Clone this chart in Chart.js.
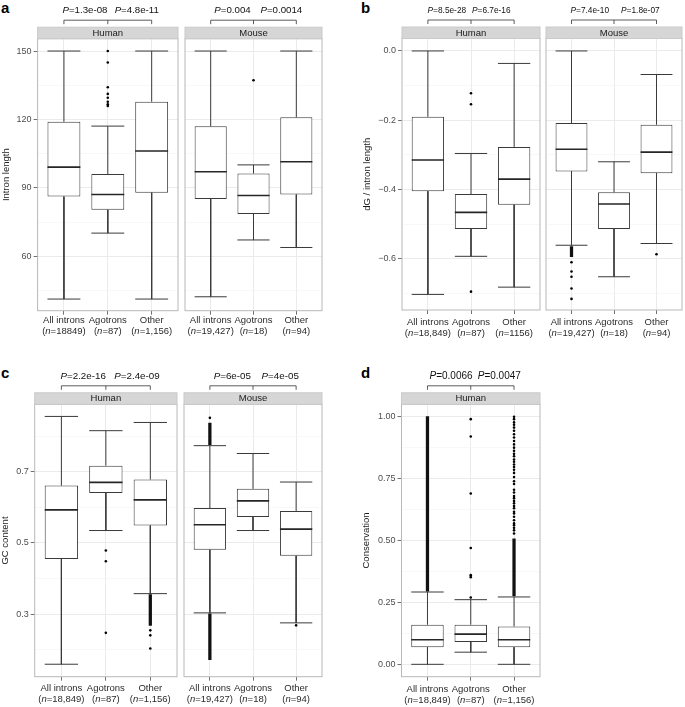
<!DOCTYPE html>
<html>
<head>
<meta charset="utf-8">
<script src="https://cdn.jsdelivr.net/npm/chart.js@4.4.1/dist/chart.umd.min.js"></script>
<style>
  body { margin: 0; background: #fff; width: 685px; height: 707px; position: relative; overflow: hidden; }
  canvas { position: absolute; }
  .tag { position: absolute; font: bold 15px "Liberation Sans", Arial, sans-serif; line-height: 15px; color: #000; }
</style>
</head>
<body>
<div class="tag" style="left:1px;top:0px">a</div>
<div class="tag" style="left:361px;top:0px">b</div>
<div class="tag" style="left:1px;top:365px">c</div>
<div class="tag" style="left:361px;top:365px">d</div>
<script>
// categories
const groups = ['All introns', 'Agotrons', 'Other'];

// box stats per group: [lower whisker, q1, median, q3, upper whisker]
// a: intron length
const aHumanBox = [[41.3, 86.2, 99.1, 119.0, 150], [70.2, 80.4, 87.1, 96.1, 117.1], [41.3, 87.9, 106.2, 127.8, 150]];
const aHumanOut = [[], [150, 145, 134.1, 131.2, 129.5, 127.8, 126.7, 125.9], []];
const aHumanDense = [[], [], []];
const aMouseBox = [[42.3, 85.2, 97.1, 117.0, 150], [67.2, 78.6, 86.7, 96.3, 100.1], [63.9, 87.1, 101.5, 121.0, 150]];
const aMouseOut = [[], [137.2], []];
const aMouseDense = [[], [], []];
const aHumanN = ['18849', '87', '1,156'];
const aMouseN = ['19,427', '18', '94'];
const aHumanP = ['1.3e-08', '4.8e-11'];
const aMouseP = ['0.004', '0.0014'];
const aTicks = [60, 90, 120, 150];
const aMinor = [45, 75, 105, 135];

// b: dG / intron length
const bHumanBox = [[-0.703, -0.405, -0.315, -0.190, 0.0], [-0.593, -0.514, -0.466, -0.413, -0.296], [-0.682, -0.444, -0.370, -0.277, -0.036]];
const bHumanOut = [[], [-0.122, -0.154, -0.695], []];
const bHumanDense = [[], [], []];
const bMouseBox = [[-0.561, -0.348, -0.284, -0.208, 0.0], [-0.652, -0.514, -0.442, -0.408, -0.320], [-0.556, -0.353, -0.292, -0.213, -0.068]];
const bMouseOut = [[-0.61, -0.637, -0.652, -0.686, -0.716], [], [-0.587]];
const bMouseDense = [[[-0.594, -0.565]], [], []];
const bHumanN = ['18,849', '87', '1156'];
const bMouseN = ['19,427', '18', '94'];
const bHumanP = ['8.5e-28', '6.7e-16'];
const bMouseP = ['7.4e-10', '1.8e-07'];
const bTicks = [-0.6, -0.4, -0.2, 0.0];
const bMinor = [-0.7, -0.5, -0.3, -0.1];

// c: GC content
const cHumanBox = [[0.160, 0.455, 0.593, 0.661, 0.855], [0.535, 0.640, 0.670, 0.717, 0.815], [0.358, 0.549, 0.621, 0.678, 0.838]];
const cHumanOut = [[], [0.479, 0.449, 0.248], [0.255, 0.241, 0.204]];
const cHumanDense = [[], [], [[0.269, 0.355]]];
const cMouseBox = [[0.304, 0.481, 0.551, 0.598, 0.773], [0.535, 0.573, 0.618, 0.652, 0.751], [0.276, 0.464, 0.539, 0.590, 0.671]];
const cMouseOut = [[0.851], [], [0.269]];
const cMouseDense = [[[0.776, 0.836], [0.173, 0.301]], [], []];
const cHumanN = ['18,849', '87', '1,156'];
const cMouseN = ['19,427', '18', '94'];
const cHumanP = ['2.2e-16', '2.4e-09'];
const cMouseP = ['6e-05', '4e-05'];
const cTicks = [0.3, 0.5, 0.7];
const cMinor = [0.2, 0.4, 0.6, 0.8];

// d: conservation
const dHumanBox = [[0, 0.069, 0.099, 0.160, 0.292], [0.049, 0.090, 0.122, 0.160, 0.261], [0, 0.069, 0.099, 0.153, 0.272]];
const dHumanOut = [[], [0.99, 0.92, 0.69, 0.47, 0.36, 0.352, 0.27],
  [1.0, 0.99, 0.977, 0.967, 0.956, 0.943, 0.929, 0.916, 0.902, 0.888, 0.875, 0.862, 0.85, 0.84, 0.827, 0.818,
   0.807, 0.797, 0.786, 0.773, 0.756, 0.739, 0.728, 0.705, 0.694, 0.68, 0.671, 0.66, 0.65, 0.639, 0.63, 0.616,
   0.609, 0.596, 0.582, 0.569, 0.562, 0.551, 0.541, 0.528]];
const dHumanDense = [[[0.295, 1.0]], [], [[0.276, 0.507]]];
const dHumanN = ['18,849', '87', '1,156'];
const dHumanP = ['0.0066', '0.0047'];
const dTicks = [0, 0.25, 0.5, 0.75, 1.0];
const dMinor = [0.125, 0.375, 0.625, 0.875];

const FONT = '"Liberation Sans", Arial, Helvetica, sans-serif';
Chart.defaults.font.family = FONT;
Chart.defaults.animation = false;
Chart.defaults.plugins.legend.display = false;
Chart.defaults.plugins.tooltip.enabled = false;

const minusFmt = d => v => (v < 0 ? '\u2212' : '') + Math.abs(v).toFixed(d);

// layout of each panel (page pixels)
const panels = [
  { ticks: aTicks, minor: aMinor, min: 36.2, max: 155.4, fmt: v => String(v), title: 'Intron length',
    top: 0, T: 38.7, B: 310.7, lab: 9.8, canvasLeft: 0, titleX: 6.5, pSize: 9.7,
    facets: [
      { L: 37.6, R: 180, strip: 'Human', box: aHumanBox, out: aHumanOut, dense: aHumanDense, n: aHumanN, p: aHumanP, pAt: [1.48, 2.66] },
      { L: 182.4, R: 324.3, strip: 'Mouse', box: aMouseBox, out: aMouseOut, dense: aMouseDense, n: aMouseN, p: aMouseP, pAt: [1.51, 2.65] }
    ] },
  { ticks: bTicks, minor: bMinor, min: -0.748, max: 0.036, fmt: minusFmt(1), title: 'dG / intron length',
    top: 0, T: 38.5, B: 310, lab: 12.3, canvasLeft: 361, titleX: 367, pSize: 8.3,
    facets: [
      { L: 402, R: 542, strip: 'Human', box: bHumanBox, out: bHumanOut, dense: bHumanDense, n: bHumanN, p: bHumanP, pAt: [1.44, 2.47] },
      { L: 543.8, R: 684.3, strip: 'Mouse', box: bMouseBox, out: bMouseOut, dense: bMouseDense, n: bMouseN, p: bMouseP, pAt: [1.43, 2.62] }
    ] },
  { ticks: cTicks, minor: cMinor, min: 0.125, max: 0.889, fmt: minusFmt(1), title: 'GC content',
    top: 360, T: 404.3, B: 676.7, lab: 12, canvasLeft: 0, titleX: 5.7, pSize: 9.8,
    facets: [
      { L: 34.7, R: 179.3, strip: 'Human', box: cHumanBox, out: cHumanOut, dense: cHumanDense, n: cHumanN, p: cHumanP, pAt: [1.49, 2.7] },
      { L: 181, R: 324, strip: 'Mouse', box: cMouseBox, out: cMouseOut, dense: cMouseDense, n: cMouseN, p: cMouseP, pAt: [1.52, 2.63] }
    ] },
  { ticks: dTicks, minor: dMinor, min: -0.05, max: 1.05, fmt: minusFmt(2), title: 'Conservation',
    top: 360, T: 404.3, B: 676.7, lab: 13, canvasLeft: 360, titleX: 366.5, pSize: 10,
    facets: [
      { L: 401.5, R: 542, strip: 'Human', box: dHumanBox, out: dHumanOut, dense: dHumanDense, n: dHumanN, p: dHumanP, pAt: [1.545, 2.66] }
    ] }
];

function richText(ctx, parts, cx, cy, size, color) {
  const fonts = parts.map(p => (p[1] ? 'italic ' : '') + size + 'px ' + FONT);
  const widths = parts.map((p, i) => { ctx.font = fonts[i]; return ctx.measureText(p[0]).width; });
  let x = cx - widths.reduce((s, w) => s + w, 0) / 2;
  ctx.fillStyle = color;
  ctx.textAlign = 'left';
  ctx.textBaseline = 'middle';
  parts.forEach((p, i) => { ctx.font = fonts[i]; ctx.fillText(p[0], x, cy); x += widths[i]; });
}

// strip, panel border, P-value brackets and two-line group labels
function facetPlugin(f, p) {
  return {
    id: 'facet',
    afterDraw(chart) {
      const { ctx, chartArea: a, scales: { x } } = chart;
      const xs = [1, 2, 3].map(v => x.getPixelForValue(v));
      ctx.save();
      ctx.strokeStyle = '#b8b8b8';
      ctx.lineWidth = 1;
      ctx.strokeRect(a.left, a.top, a.right - a.left, a.bottom - a.top);

      const sTop = a.top - 11.5;
      ctx.fillStyle = '#d6d6d6';
      ctx.fillRect(a.left, sTop, a.right - a.left, 11.5);
      ctx.strokeStyle = '#cacaca';
      ctx.strokeRect(a.left, sTop, a.right - a.left, 11.5);
      ctx.fillStyle = '#1a1a1a';
      ctx.font = '9.5px ' + FONT;
      ctx.textAlign = 'center';
      ctx.textBaseline = 'middle';
      ctx.fillText(f.strip, (a.left + a.right) / 2, sTop + 6);

      const by = sTop - 7;
      ctx.strokeStyle = '#333';
      ctx.lineWidth = 0.8;
      ctx.beginPath();
      ctx.moveTo(xs[0], by + 4); ctx.lineTo(xs[0], by); ctx.lineTo(xs[2], by); ctx.lineTo(xs[2], by + 4);
      ctx.moveTo(xs[1], by); ctx.lineTo(xs[1], by + 4);
      ctx.stroke();
      f.p.forEach((val, j) => {
        richText(ctx, [['P', true], ['=' + val, false]], x.getPixelForValue(f.pAt[j]), sTop - 16.5, p.pSize, '#111');
      });

      groups.forEach((g, i) => {
        ctx.fillStyle = '#2b2b2b';
        ctx.font = '9.5px ' + FONT;
        ctx.textAlign = 'center';
        ctx.textBaseline = 'middle';
        ctx.fillText(g, xs[i], a.bottom + p.lab);
        richText(ctx, [['(', false], ['n', true], ['=' + f.n[i] + ')', false]], xs[i], a.bottom + p.lab + 10.7, 9.5, '#2b2b2b');
      });
      ctx.restore();
    }
  };
}

function makeDatasets(f) {
  const hw = 0.375;
  const whisk = [], meds = [], bars = [], pts = [], dense = [];
  f.box.forEach((b, i) => {
    const x = i + 1;
    whisk.push({ x: x, y: b[3] }, { x: x, y: b[4] }, { x: x, y: null },
               { x: x, y: b[1] }, { x: x, y: b[0] }, { x: x, y: null },
               { x: x - hw, y: b[4] }, { x: x + hw, y: b[4] }, { x: x, y: null },
               { x: x - hw, y: b[0] }, { x: x + hw, y: b[0] }, { x: x, y: null });
    meds.push({ x: x - hw, y: b[2] }, { x: x + hw, y: b[2] }, { x: x, y: null });
    bars.push({ x: x, y: [b[1], b[3]] });
    f.out[i].forEach(v => pts.push({ x: x, y: v }));
    f.dense[i].forEach(r => dense.push({ x: x, y: r }));
  });
  return [
    { type: 'line', data: meds, borderColor: '#262626', borderWidth: 1.6, pointRadius: 0, spanGaps: false, order: 0 },
    { type: 'scatter', data: pts, pointRadius: 1.3, backgroundColor: '#000', borderWidth: 0, order: 1 },
    { type: 'bar', data: dense, backgroundColor: '#111', barThickness: 2.6, grouped: false, order: 1 },
    { type: 'bar', data: bars, backgroundColor: '#fff', borderColor: '#3a3a3a', borderWidth: 1, borderSkipped: false,
      grouped: false, barPercentage: 0.75, categoryPercentage: 1, order: 2 },
    { type: 'line', data: whisk, borderColor: '#3a3a3a', borderWidth: 1, pointRadius: 0, spanGaps: false, order: 3 }
  ];
}

panels.forEach(p => {
  p.facets.forEach((f, k) => {
    const left = k === 0;
    const cl = left ? p.canvasLeft : Math.floor(f.L) - 1;
    const yw = f.L - cl;
    const w = Math.ceil(f.R - cl + 1.5);
    const h = Math.ceil(p.B - p.top + 34);
    const xh = h - (p.B - p.top);
    const canvas = document.createElement('canvas');
    canvas.width = w; canvas.height = h;
    canvas.style.left = cl + 'px'; canvas.style.top = p.top + 'px';
    canvas.style.width = w + 'px'; canvas.style.height = h + 'px';
    document.body.appendChild(canvas);

    const isMinor = c => c.tick && p.minor.includes(c.tick.value);
    new Chart(canvas.getContext('2d'), {
      type: 'scatter',
      data: { datasets: makeDatasets(f) },
      plugins: [facetPlugin(f, p)],
      options: {
        responsive: false,
        devicePixelRatio: 1,
        events: [],
        layout: { padding: { left: 0, top: p.T - p.top, right: w - (f.R - cl), bottom: 0 } },
        scales: {
          x: {
            type: 'linear', min: 0.4, max: 3.6, offset: false,
            afterBuildTicks: s => { s.ticks = [1, 2, 3].map(v => ({ value: v })); },
            afterFit: s => { s.height = xh; },
            ticks: { display: false },
            grid: { offset: false, color: '#ebebeb', lineWidth: 1, tickLength: 4, tickColor: '#4d4d4d', tickWidth: 0.8 },
            border: { display: false }
          },
          y: {
            type: 'linear', min: p.min, max: p.max,
            afterBuildTicks: s => {
              s.ticks = p.ticks.concat(p.minor).sort((a, b) => a - b).map(v => ({ value: v }));
            },
            afterFit: s => { s.width = yw; },
            ticks: {
              display: left, autoSkip: false, padding: 2, color: '#4d4d4d', font: { size: 9 },
              callback: v => (p.ticks.includes(v) ? p.fmt(v) : '')
            },
            grid: {
              color: c => (isMinor(c) ? '#f4f4f4' : '#ebebeb'),
              lineWidth: c => (isMinor(c) ? 0.6 : 1),
              drawTicks: left, tickLength: 4, tickWidth: 0.8,
              tickColor: c => (isMinor(c) ? 'rgba(0,0,0,0)' : '#4d4d4d')
            },
            border: { display: false },
            title: {
              display: left, text: p.title, color: '#1a1a1a', font: { size: 9.5 },
              padding: { top: Math.max(0, p.titleX - cl - 5.7), bottom: 0 }
            }
          }
        }
      }
    });
  });
});
</script>
</body>
</html>
